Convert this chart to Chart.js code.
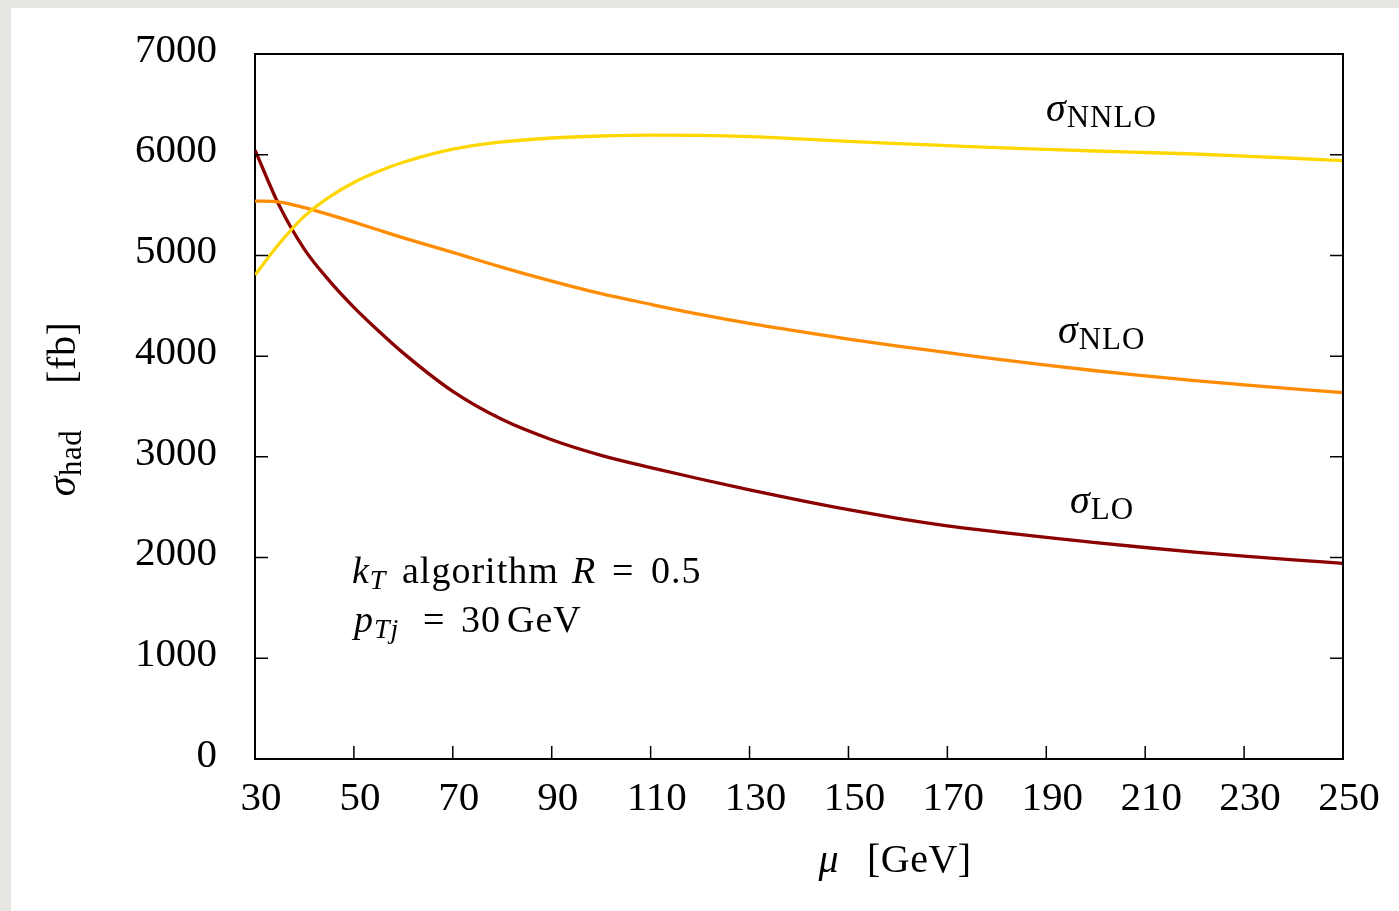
<!DOCTYPE html>
<html>
<head>
<meta charset="utf-8">
<script src="https://cdn.jsdelivr.net/npm/chart.js@4.4.1/dist/chart.umd.min.js"></script>
<style>
  html, body { margin: 0; padding: 0; }
  body { width: 1399px; height: 911px; background: #e7e5e2; position: relative; overflow: hidden; }
  #card { position: absolute; left: 11px; top: 8px; right: 0; bottom: 0; background: #fff; }
  #c { position: absolute; left: 0; top: 0; }
</style>
</head>
<body>
<div id="card"></div>
<canvas id="c" width="1399" height="911"></canvas>
<script>
// scale mu in GeV
const mu = [30, 35, 40, 45, 50, 55, 60, 70, 80, 90, 100, 110, 120, 130, 140, 150, 160, 170, 180, 190, 200, 210, 220, 230, 240, 250];
// cross sections in fb
const sigmaLO = [6045, 5485, 5060, 4750, 4485, 4250, 4030, 3650, 3370, 3170, 3015, 2893, 2780, 2672, 2570, 2475, 2390, 2315, 2255, 2200, 2148, 2100, 2055, 2015, 1978, 1943];
const sigmaNLO = [5540, 5530, 5475, 5405, 5330, 5252, 5175, 5030, 4882, 4745, 4620, 4515, 4415, 4325, 4245, 4170, 4100, 4035, 3970, 3910, 3855, 3805, 3757, 3715, 3675, 3637];
const sigmaNNLO = [4806, 5123, 5390, 5580, 5725, 5835, 5925, 6055, 6127, 6166, 6186, 6195, 6192, 6180, 6158, 6132, 6110, 6090, 6070, 6053, 6037, 6022, 6007, 5987, 5965, 5941];

const xTicks = [30, 50, 70, 90, 110, 130, 150, 170, 190, 210, 230, 250];
const yTicks = [0, 1000, 2000, 3000, 4000, 5000, 6000, 7000];

const FONT = "'Liberation Serif', 'DejaVu Serif', serif";

function pts(ys) {
  return mu.map((m, i) => ({ x: m, y: ys[i] }));
}

// text pieces: {t, it, size, at (absolute left, else follows previous), dy, gap}
function rich(ctx, x, y, parts, align, spacing) {
  ctx.letterSpacing = (spacing || 0) + "px";
  let w = 0;
  parts.forEach(p => {
    ctx.font = (p.it ? "italic " : "") + p.size + "px " + FONT;
    p.w = ctx.measureText(p.t).width;
    w += p.w + (p.gap || 0);
  });
  let cx = align === "center" ? x - w / 2 : x;
  ctx.textAlign = "left";
  ctx.textBaseline = "alphabetic";
  parts.forEach(p => {
    ctx.font = (p.it ? "italic " : "") + p.size + "px " + FONT;
    const px = p.at !== undefined ? p.at : cx;
    ctx.fillText(p.t, px, y + (p.dy || 0));
    cx = px + p.w + (p.gap || 0);
  });
  ctx.letterSpacing = "0px";
}

const decor = {
  id: "decor",
  afterDraw(chart) {
    const ctx = chart.ctx;
    const a = chart.chartArea;
    const xs = chart.scales.x, ys = chart.scales.y;
    ctx.save();
    ctx.strokeStyle = "#000";
    // top and right frame
    ctx.lineWidth = 2;
    ctx.beginPath();
    ctx.moveTo(a.left, a.top);
    ctx.lineTo(a.right, a.top);
    ctx.lineTo(a.right, a.bottom);
    ctx.stroke();
    // inner ticks
    ctx.lineWidth = 1.5;
    ctx.beginPath();
    yTicks.forEach(v => {
      if (v === 0 || v === 7000) return;
      const py = ys.getPixelForValue(v);
      ctx.moveTo(a.left, py); ctx.lineTo(a.left + 13, py);
      ctx.moveTo(a.right, py); ctx.lineTo(a.right - 13, py);
    });
    xTicks.forEach(v => {
      if (v === 30 || v === 250) return;
      const px = xs.getPixelForValue(v);
      ctx.moveTo(px, a.bottom); ctx.lineTo(px, a.bottom - 13);
    });
    ctx.stroke();

    ctx.fillStyle = "#000";
    // curve labels
    rich(ctx, 1046, 121, [{ t: "σ", it: true, size: 40 }, { t: "NNLO", size: 31, dy: 6 }], "left", 1);
    rich(ctx, 1058, 343, [{ t: "σ", it: true, size: 40 }, { t: "NLO", size: 31, dy: 6 }], "left", 1);
    rich(ctx, 1070, 513, [{ t: "σ", it: true, size: 40 }, { t: "LO", size: 31, dy: 6 }], "left", 1);

    // jet settings
    rich(ctx, 352, 583, [
      { t: "k", it: true, size: 38 }, { t: "T", it: true, size: 28, dy: 6 },
      { t: "algorithm", size: 38, at: 402 }, { t: "R", it: true, size: 38, at: 572 },
      { t: "=", size: 38, at: 612 }, { t: "0.5", size: 38, at: 651 }
    ], "left", 1);
    rich(ctx, 352, 632, [
      { t: "p", it: true, size: 38, at: 354 }, { t: "Tj", it: true, size: 28, dy: 6, at: 374 },
      { t: "=", size: 38, at: 423 }, { t: "30", size: 38, at: 461 }, { t: "GeV", size: 38, at: 507 }
    ], "left", 1);

    // axis titles
    rich(ctx, 895, 872, [{ t: "μ", it: true, size: 40, gap: 28 }, { t: "[GeV]", size: 40 }], "center", 0.5);
    ctx.translate(75, 409);
    ctx.rotate(-Math.PI / 2);
    rich(ctx, 0, 0, [
      { t: "σ", it: true, size: 40 }, { t: "had", size: 31, dy: 6, gap: 46 },
      { t: "[fb]", size: 40 }
    ], "center", 0.5);
    ctx.restore();
  }
};

new Chart(document.getElementById("c"), {
  type: "line",
  data: {
    datasets: [
      { label: "NNLO", data: pts(sigmaNNLO), borderColor: "#ffd700", borderWidth: 3.3, pointRadius: 0, cubicInterpolationMode: "monotone" },
      { label: "NLO", data: pts(sigmaNLO), borderColor: "#ff8c00", borderWidth: 3.3, pointRadius: 0, cubicInterpolationMode: "monotone" },
      { label: "LO", data: pts(sigmaLO), borderColor: "#8b0000", borderWidth: 3.3, pointRadius: 0, cubicInterpolationMode: "monotone" }
    ]
  },
  options: {
    responsive: false,
    animation: false,
    devicePixelRatio: 1,
    layout: { padding: { left: 0, top: 54, right: 56, bottom: 0 } },
    plugins: { legend: { display: false }, tooltip: { enabled: false } },
    scales: {
      x: {
        type: "linear", min: 30, max: 250,
        afterBuildTicks: s => { s.ticks = xTicks.map(v => ({ value: v })); },
        afterFit: s => { s.height = 152; s.paddingLeft = 0; s.paddingRight = 0; },
        grid: { display: false, drawTicks: false },
        border: { display: true, color: "#000", width: 2 },
        ticks: { color: "#000", font: { family: FONT, size: 41 }, padding: 16, labelOffset: 6, maxRotation: 0, autoSkip: false }
      },
      y: {
        min: 0, max: 7000,
        afterBuildTicks: s => { s.ticks = yTicks.map(v => ({ value: v })); },
        afterFit: s => { s.width = 255; s.paddingTop = 0; s.paddingBottom = 0; },
        grid: { display: false, drawTicks: false },
        border: { display: true, color: "#000", width: 2 },
        ticks: { color: "#000", font: { family: FONT, size: 41 }, padding: 38, labelOffset: -3, callback: v => String(v) }
      }
    }
  },
  plugins: [decor]
});
</script>
</body>
</html>
